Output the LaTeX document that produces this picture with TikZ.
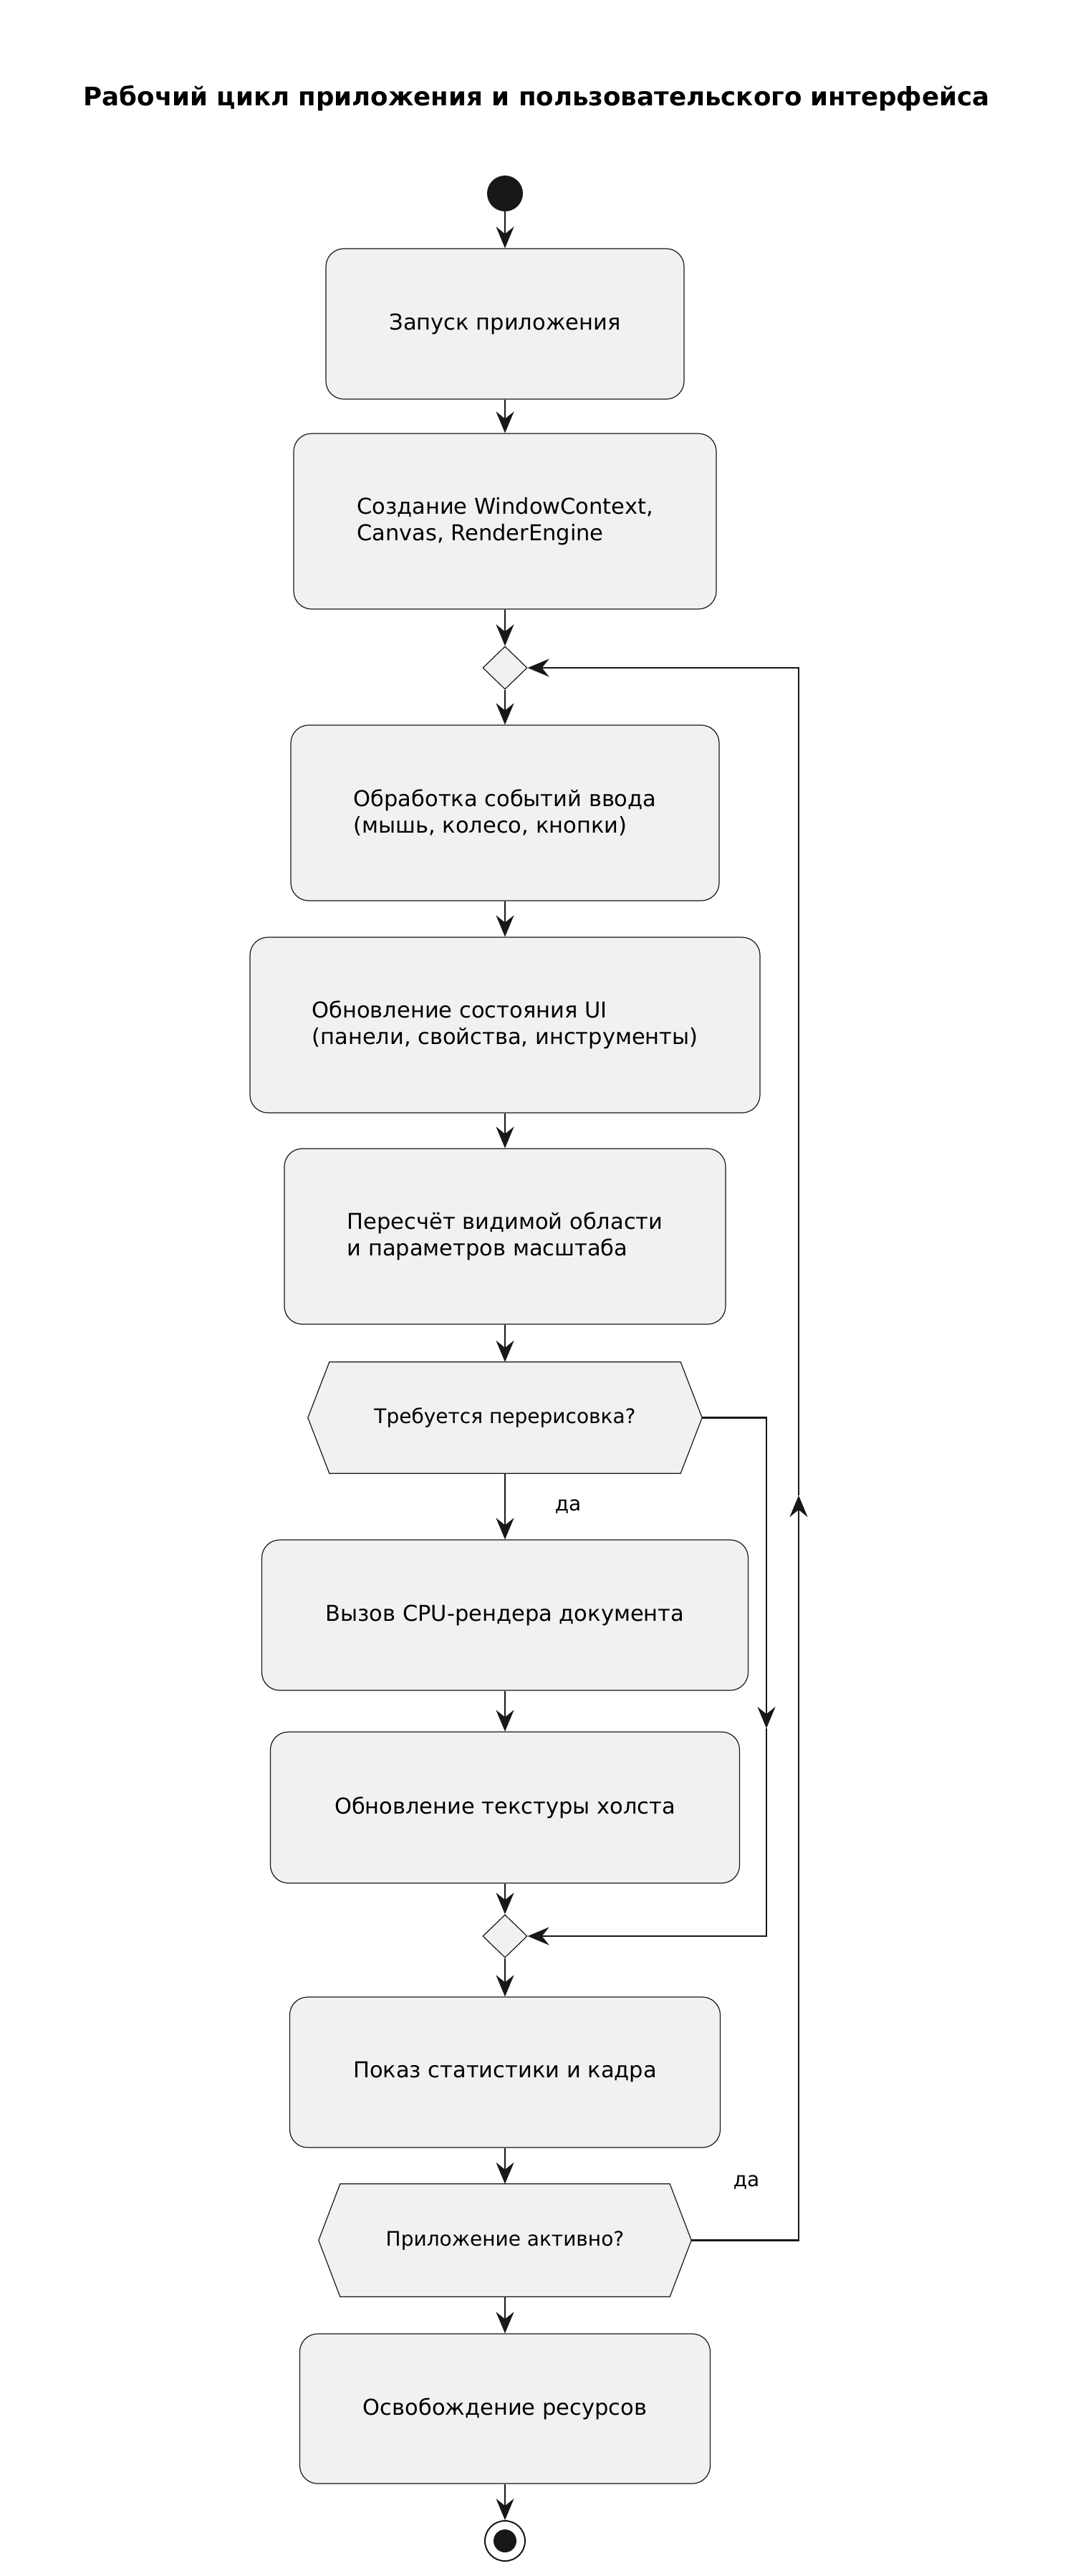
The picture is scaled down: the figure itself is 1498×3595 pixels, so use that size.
\documentclass[tikz,border=0pt]{standalone}
\usepackage{fontspec}
\setmainfont{DejaVu Sans}
\usetikzlibrary{arrows.meta}
\usetikzlibrary{shapes.geometric}
\usetikzlibrary{backgrounds}
\definecolor{boxfill}{HTML}{F1F1F1}
\definecolor{boxline}{HTML}{181818}

\begin{document}
\begin{tikzpicture}
	[x=1pt, y=-1pt,
	activity/.style={draw=boxline, fill=boxfill, line width=1.2pt,
		rounded corners=25pt, inner sep=0pt, align=left,
		font=\fontsize{30.5}{37}\selectfont},
	decision/.style={inner sep=0pt, font=\fontsize{28}{32}\selectfont},
	hexline/.style={draw=boxline, fill=boxfill, line width=1.2pt},
	merge/.style={diamond, draw=boxline, fill=boxfill, line width=1.2pt,
		inner sep=0pt, minimum width=62pt, minimum height=60pt},
	flow/.style={draw=boxline, line width=2.6pt,
		-{Stealth[length=30pt,width=25pt,inset=10pt]}},
	guard/.style={font=\fontsize{28}{32}\selectfont}]

\useasboundingbox (0,0) rectangle (1498,3595);

\def\MainX{705}
\def\SkipX{1070}
\def\LoopX{1115}
\def\Inset{30}

% Title
\node (title) [anchor=base, font=\bfseries\fontsize{35.6}{42}\selectfont]
	at (749,147) {Рабочий цикл приложения и пользовательского интерфейса};

% Start
\node (start) [circle, fill=boxline, minimum size=50pt, inner sep=0pt]
	at (\MainX,270) {};

% Activities
\node (launch) [activity, minimum width=500pt, minimum height=210pt]
	at (\MainX,452) {Запуск приложения};
\node (create) [activity, minimum width=590pt, minimum height=245pt]
	at (\MainX,727.5) {Создание WindowContext,\\Canvas, RenderEngine};
\node (mergeA) [merge] at (\MainX,932) {};
\node (input) [activity, minimum width=598pt, minimum height=245pt]
	at (\MainX,1134.5) {Обработка событий ввода\\(мышь, колесо, кнопки)};
\node (uistate) [activity, minimum width=712pt, minimum height=245pt]
	at (\MainX,1430.5) {Обновление состояния UI\\(панели, свойства, инструменты)};
\node (viewport) [activity, minimum width=616pt, minimum height=245pt]
	at (\MainX,1725.5) {Пересчёт видимой области\\и параметров масштаба};
\node (redraw) [decision, minimum width=550pt, minimum height=155pt]
	at (\MainX,1978.5) {Требуется перерисовка?};
\node (render) [activity, minimum width=679pt, minimum height=210pt]
	at (\MainX,2254) {Вызов CPU-рендера документа};
\node (texture) [activity, minimum width=655pt, minimum height=211pt]
	at (\MainX,2522.5) {Обновление текстуры холста};
\node (mergeB) [merge] at (\MainX,2702) {};
\node (stats) [activity, minimum width=601pt, minimum height=210pt]
	at (\MainX,2892) {Показ статистики и кадра};
\node (active) [decision, minimum width=520pt, minimum height=157pt]
	at (\MainX,3126.5) {Приложение активно?};
\node (release) [activity, minimum width=573pt, minimum height=209pt]
	at (\MainX,3361.5) {Освобождение ресурсов};

% Stop
\node (stop) [circle, draw=boxline, fill=white, line width=2pt,
	minimum size=56pt, inner sep=0pt] at (\MainX,3546) {};
\node (stopdot) [circle, fill=boxline, minimum size=32pt, inner sep=0pt]
	at (stop) {};

% Decision outlines
\begin{scope}[on background layer]
\foreach \hex in {redraw, active}
	\draw[hexline]
		([xshift=\Inset pt]\hex.north west) --
		([xshift=-\Inset pt]\hex.north east) --
		(\hex.east) --
		([xshift=-\Inset pt]\hex.south east) --
		([xshift=\Inset pt]\hex.south west) --
		(\hex.west) -- cycle;
\end{scope}

% Main flow
\draw[flow] (start) -- (launch);
\draw[flow] (launch) -- (create);
\draw[flow] (create) -- (mergeA);
\draw[flow] (mergeA) -- (input);
\draw[flow] (input) -- (uistate);
\draw[flow] (uistate) -- (viewport);
\draw[flow] (viewport) -- (redraw);
\draw[flow] (redraw) -- node[guard, midway, xshift=88pt] {да} (render);
\draw[flow] (render) -- (texture);
\draw[flow] (texture) -- (mergeB);
\draw[flow] (mergeB) -- (stats);
\draw[flow] (stats) -- (active);
\draw[flow] (active) -- (release);
\draw[flow] (release) -- (stop);

% Skip branch
\coordinate (skipA) at (\SkipX,2412);
\draw[flow] (redraw.east) -| (skipA);
\draw[flow] (skipA) |- (mergeB.east);

% Loop back
\coordinate (loopA) at (\LoopX,2087);
\node (yesB) [guard] at (1042,3046) {да};
\draw[flow] (active.east) -| (loopA);
\draw[flow] (loopA) |- (mergeA.east);

\end{tikzpicture}
\end{document}
